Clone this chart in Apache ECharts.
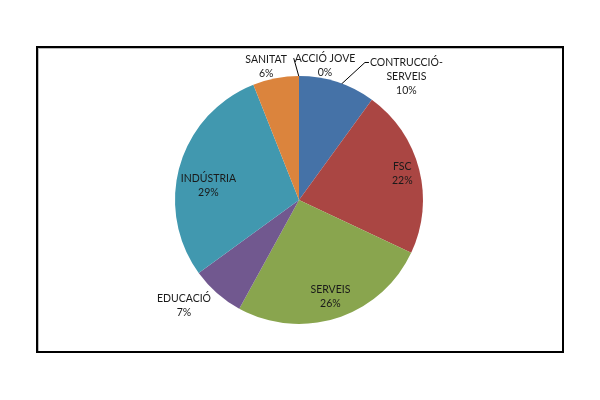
<!DOCTYPE html>
<html>
<head>
<meta charset="utf-8">
<script src="https://cdn.jsdelivr.net/npm/echarts@6/dist/echarts.min.js"></script>
<style>
  html, body { margin: 0; padding: 0; background: #fff; }
  #main { position: absolute; left: 0; top: 0; width: 600px; height: 400px; }
  #frame { position: absolute; left: 36px; top: 46px; width: 524px; height: 303px;
           border: 2px solid #000; box-shadow: inset 1px 1px 0 #bbb; }
</style>
</head>
<body>
<div id="frame"></div>
<div id="main"></div>
<script>
// sectors, clockwise from 12 o'clock
var categories = ['CONTRUCCIÓ-\nSERVEIS', 'FSC', 'SERVEIS', 'EDUCACIÓ', 'INDÚSTRIA', 'SANITAT', 'ACCIÓ JOVE'];
var values = [10, 22, 26, 7, 29, 6, 0];
var colors = ['#4572A7', '#AA4643', '#89A54E', '#71588F', '#4198AF', '#DB843D', '#93A9CF'];

// label placement: distance as a fraction of radius, and turn (deg) from the sector middle
var labelRadius = [1.32, 0.86, 0.82, 1.26, 0.74, 1.11, 1.1];
var labelTurn = [23, 0, 0, 6, -7, -3, 11];
var leader = [true, false, false, false, false, false, true];

var cx = 299, cy = 200, R = 124;

var total = values.reduce(function (a, b) { return a + b; }, 0);
var midAngle = [];
var acc = 0;
values.forEach(function (v) {
    midAngle.push((acc + v / 2) / total * 360);
    acc += v;
});

function polar(a, r) {
    var rad = a * Math.PI / 180;
    return [cx + r * Math.sin(rad), cy - r * Math.cos(rad)];
}

var data = categories.map(function (name, i) {
    return {
        name: name,
        value: values[i],
        itemStyle: { color: colors[i] },
        labelLine: { show: leader[i] }
    };
});

var myChart = echarts.init(document.getElementById('main'));
var option = {
    animation: false,
    series: [{
        type: 'pie',
        center: [cx, cy],
        radius: R,
        startAngle: 90,
        clockwise: true,
        stillShowZeroSum: true,
        avoidLabelOverlap: false,
        itemStyle: { borderWidth: 0 },
        label: {
            show: true,
            position: 'outside',
            formatter: '{b}\n{c}%',
            fontFamily: 'Lato',
            fontSize: 10.5,
            lineHeight: 14,
            color: '#1a1a1a',
            align: 'center'
        },
        labelLine: {
            show: true,
            lineStyle: { color: '#000', width: 1 }
        },
        labelLayout: function (params) {
            var i = params.dataIndex;
            var p = polar(midAngle[i] + labelTurn[i], R * labelRadius[i]);
            var w = params.labelRect.width, h = params.labelRect.height;
            var left = p[0] - w / 2, top = p[1] - h / 2;
            var res = {
                x: p[0],
                y: p[1],
                align: 'center',
                verticalAlign: 'middle',
                hideOverlap: false
            };
            if (i === 0) {
                var e = polar(midAngle[i] + 2, R - 1);
                res.labelLinePoints = [e, [left - 5, top + 7], [left - 1, top + 7]];
            } else if (leader[i]) {
                res.labelLinePoints = [polar(midAngle[i], R - 1), [left - 1, top + 6], [left - 1, top + 6]];
            }
            return res;
        },
        data: data
    }]
};
myChart.setOption(option);
</script>
</body>
</html>
